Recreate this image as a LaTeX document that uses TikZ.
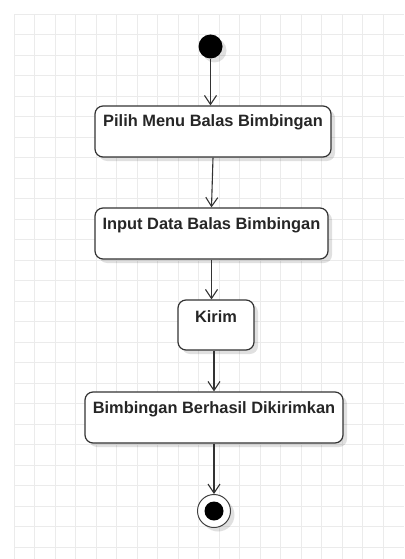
\documentclass[tikz,border=0pt]{standalone}
\usepackage{fontspec}
\setmainfont{Liberation Sans}
\usepackage{tikz}
\usetikzlibrary{arrows.meta,shadows}

\begin{document}
\begin{tikzpicture}[x=1pt,y=-1pt,
  activity/.style={draw=black!80, line width=1.2pt, fill=white, rounded corners=8pt,
    inner sep=0pt, text height=21pt, text depth=30pt,
    font=\fontsize{16.4}{18}\selectfont\bfseries, text=black!85,
    drop shadow={shadow xshift=4pt, shadow yshift=-4pt, opacity=0.12, fill=black}},
  flow/.style={draw=black!80, line width=1.1pt, -{Straight Barb[length=9pt,width=12pt]}}]

\useasboundingbox (0,0) rectangle (404,559);

% grid
\foreach \i in {0,...,18} \draw[black!8, line width=0.8pt] (14+20.5*\i,14) -- (14+20.5*\i,559);
\foreach \j in {0,...,26} \draw[black!8, line width=0.8pt] (14,14+20.5*\j) -- (404,14+20.5*\j);

% start
\node[circle, fill=black, minimum size=24pt, inner sep=0pt,
  drop shadow={shadow xshift=4pt, shadow yshift=-4pt, opacity=0.12, fill=black}] (start) at (210.5,46.5) {};

\node[activity, minimum width=236pt] (pilih) at (213,131.5) {Pilih Menu Balas Bimbingan};
\node[activity, minimum width=233pt] (input) at (211.5,233.5) {Input Data Balas Bimbingan};
\node[activity, minimum width=76pt, text height=22pt, text depth=28pt] (kirim) at (216,325) {Kirim};
\node[activity, minimum width=258pt] (hasil) at (214,417.5) {Bimbingan Berhasil Dikirimkan};

% end
\node[circle, draw=black!75, line width=1pt, fill=white, minimum size=33pt, inner sep=0pt,
  drop shadow={shadow xshift=4pt, shadow yshift=-4pt, opacity=0.12, fill=black}] (finish) at (214,511) {};
\node[circle, fill=black, minimum size=19pt, inner sep=0pt] (finishdot) at (finish) {};

\draw[flow] (start) -- (start |- pilih.north);
\draw[flow] (pilih.south) -- (input.north);
\draw[flow] (input.south) -- (input.south |- kirim.north);
\draw[flow] (kirim.south -| hasil.north) -- (hasil.north);
\draw[flow] (hasil.south) -- (finish);

\end{tikzpicture}
\end{document}
